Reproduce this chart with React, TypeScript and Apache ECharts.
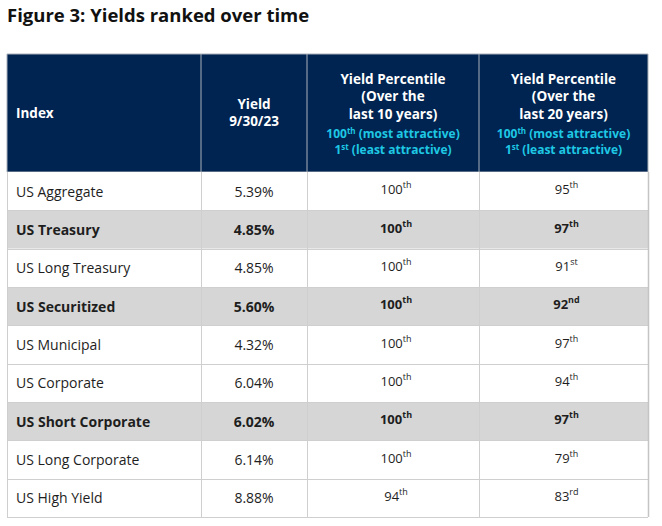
import React, { useEffect, useRef } from "react";
import * as echarts from "echarts";

const title = "Figure 3: Yields ranked over time";
const indexNames = [
  "US Aggregate",
  "US Treasury",
  "US Long Treasury",
  "US Securitized",
  "US Municipal",
  "US Corporate",
  "US Short Corporate",
  "US Long Corporate",
  "US High Yield",
];
const yields = ["5.39%", "4.85%", "4.85%", "5.60%", "4.32%", "6.04%", "6.02%", "6.14%", "8.88%"];
const pct10 = [100, 100, 100, 100, 100, 100, 100, 100, 94];
const pct20 = [95, 97, 91, 92, 97, 94, 97, 79, 83];
const highlighted = [false, true, false, true, false, false, true, false, false];

const headIndex = "Index";
const headYield = ["Yield", "9/30/23"];
const head10 = ["Yield Percentile", "(Over the", "last 10 years)"];
const head20 = ["Yield Percentile", "(Over the", "last 20 years)"];
const headNote = [["100", "th", " (most attractive)"], ["1", "st", " (least attractive)"]];

const NAVY = "#002451";
const CYAN = "#1ec8e4";
const GRAY = "#d6d6d6";
const LINE = "#cfcfcf";
const TEXT = "#1e1e1e";
const FONT = "'Open Sans', 'Noto Sans', sans-serif";

function suffix(n: number): string {
  const m10 = n % 10;
  const m100 = n % 100;
  if (m10 === 1 && m100 !== 11) return "st";
  if (m10 === 2 && m100 !== 12) return "nd";
  if (m10 === 3 && m100 !== 13) return "rd";
  return "th";
}

export default function App() {
  const ref = useRef<HTMLDivElement>(null);
  useEffect(() => {
    if (!ref.current) return;
    const chart = echarts.init(ref.current, null, { renderer: "svg" });
    const colX = [7, 201, 307, 479, 648];
    const headTop = 54;
    const headBottom = 172;
    const rowH = (517 - headBottom) / indexNames.length;
    const els: any[] = [];

    els.push({
      type: "text",
      x: 7,
      y: 14,
      style: { text: title, font: `bold 18.5px ${FONT}`, fill: "#111", verticalAlign: "middle" },
    });

    // header
    els.push({
      type: "rect",
      shape: { x: colX[0], y: headTop, width: colX[4] - colX[0], height: headBottom - headTop },
      style: { fill: NAVY, stroke: "#a9b0bb", lineWidth: 1 },
    });
    for (let i = 1; i < 4; i++) {
      els.push({
        type: "line",
        shape: { x1: colX[i], y1: headTop, x2: colX[i], y2: headBottom },
        style: { stroke: "#a9b0bb", lineWidth: 1 },
      });
    }
    const hfont = `bold 13.5px ${FONT}`;
    const hStep = 17.5;
    els.push({
      type: "text",
      x: 16,
      y: 113,
      style: { text: headIndex, font: hfont, fill: "#fff", verticalAlign: "middle" },
    });
    headYield.forEach((t, i) => {
      els.push({
        type: "text",
        x: (colX[1] + colX[2]) / 2,
        y: 103.75 + i * hStep,
        style: { text: t, font: hfont, lineHeight: 15, fill: "#fff", align: "center", verticalAlign: "middle" },
      });
    });
    [head10, head20].forEach((lines, c) => {
      const cx = (colX[c + 2] + colX[c + 3]) / 2;
      lines.forEach((t, i) => {
        els.push({
          type: "text",
          x: cx,
          y: 78.5 + i * hStep,
          style: { text: t, font: hfont, lineHeight: 15, fill: "#fff", align: "center", verticalAlign: "middle" },
        });
      });
      headNote.forEach((parts, i) => {
        els.push({
          type: "text",
          x: cx,
          y: 133 + i * 16,
          style: {
            text: `{a|${parts[0]}}{s|${parts[1]}}{a|${parts[2]}}`,
            align: "center",
            verticalAlign: "middle",
            rich: {
              a: { fontFamily: FONT, fontWeight: "bold", fontSize: 12, fill: CYAN, lineHeight: 14 },
              s: { fontFamily: FONT, fontWeight: "bold", fontSize: 8, fill: CYAN, verticalAlign: "top", lineHeight: 14 },
            },
          },
        });
      });
    });

    // body
    indexNames.forEach((name, r) => {
      const y0 = headBottom + r * rowH;
      const cy = y0 + rowH / 2;
      const bold = highlighted[r];
      els.push({
        type: "rect",
        shape: { x: colX[0], y: y0, width: colX[4] - colX[0], height: rowH },
        style: { fill: bold ? GRAY : "#fff" },
      });
      const w = bold ? "bold" : "normal";
      els.push({
        type: "text",
        x: 16,
        y: cy,
        style: { text: name, font: `${w} 14px ${FONT}`, fill: TEXT, verticalAlign: "middle" },
      });
      els.push({
        type: "text",
        x: (colX[1] + colX[2]) / 2,
        y: cy,
        style: { text: yields[r], font: `${w} 14px ${FONT}`, fill: TEXT, align: "center", verticalAlign: "middle" },
      });
      [pct10[r], pct20[r]].forEach((v, c) => {
        els.push({
          type: "text",
          x: (colX[c + 2] + colX[c + 3]) / 2 + 3,
          y: cy - 2,
          style: {
            text: `{a|${v}}{s|${suffix(v)}}`,
            align: "center",
            verticalAlign: "middle",
            rich: {
              a: { fontFamily: FONT, fontWeight: w, fontSize: 13, fill: TEXT, lineHeight: 18 },
              s: { fontFamily: FONT, fontWeight: w, fontSize: 9, fill: TEXT, verticalAlign: "top", lineHeight: 18 },
            },
          },
        });
      });
    });
    // grid lines
    for (let r = 1; r <= indexNames.length; r++) {
      const y = Math.round(headBottom + r * rowH) + 0.5;
      els.push({
        type: "line",
        shape: { x1: colX[0], y1: y, x2: colX[4], y2: y },
        style: { stroke: LINE, lineWidth: 1 },
      });
    }
    for (let i = 0; i < 5; i++) {
      els.push({
        type: "line",
        shape: { x1: colX[i] + 0.5, y1: headBottom, x2: colX[i] + 0.5, y2: headBottom + indexNames.length * rowH },
        style: { stroke: i === 4 ? "#c4c4c4" : LINE, lineWidth: i === 4 ? 1.5 : 1 },
      });
    }

    chart.setOption({
      animation: false,
      graphic: { elements: els },
    });
    return () => chart.dispose();
  }, []);
  return (
    <div
      ref={ref}
      style={{ position: "fixed", left: 0, top: 0, width: 662, height: 526, background: "#fff" }}
    />
  );
}
